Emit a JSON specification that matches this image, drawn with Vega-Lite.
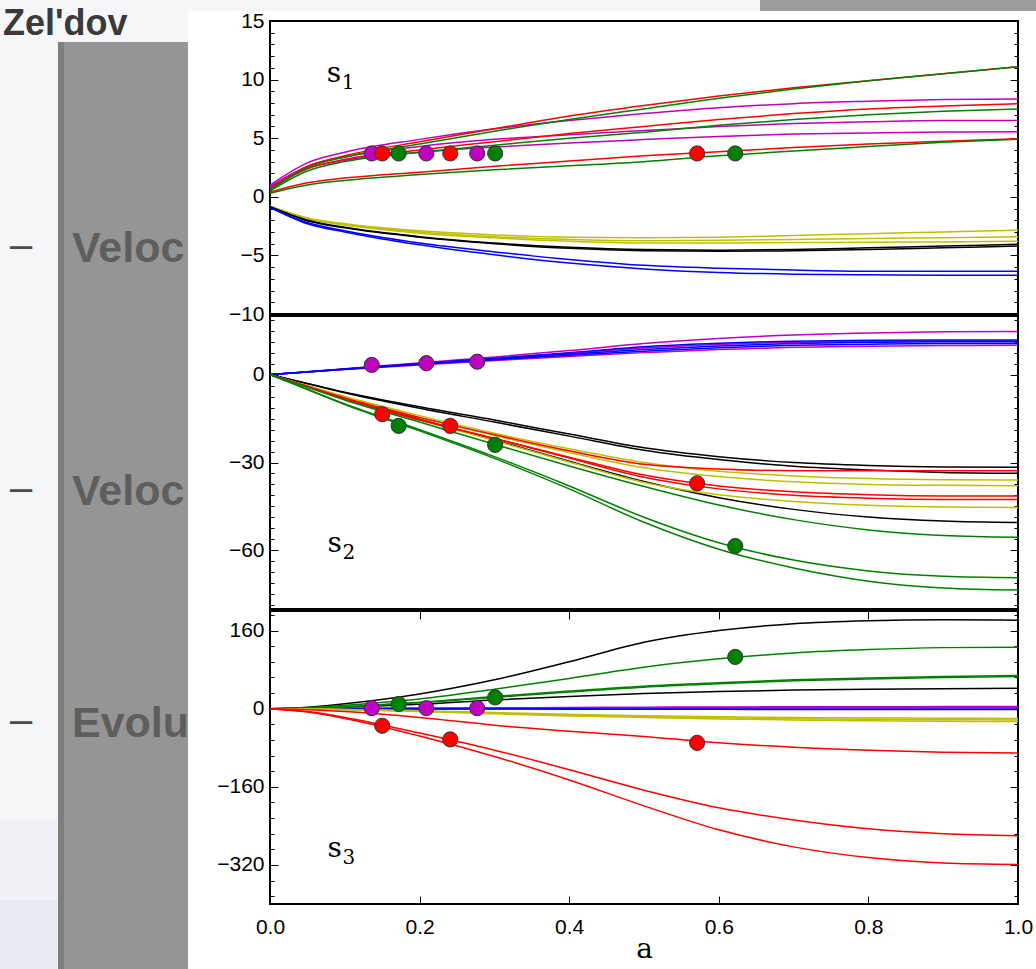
{
"$schema":"https://vega.github.io/schema/vega-lite/v6.json",
"background":"#ffffff",
"padding":0,
"bounds":"flush",
"spacing":82,
"resolve":{"scale":{"color":"independent","fill":"independent"}},
"config":{
 "view":{"stroke":null},
 "axis":{"domain":false,"grid":false,"labelFont":"Liberation Sans","labelFontSize":21,"labelColor":"#000000","tickColor":"#000000","tickWidth":1,"labelFlush":false,"labelOverlap":false,"titleColor":"#000000"}
},
"datasets":{
 "deco":[
  {"part":"bg","x1":0,"x2":1036,"y1":0,"y2":969},
  {"part":"bgb","x1":0,"x2":58,"y1":820,"y2":900},
  {"part":"bgc","x1":0,"x2":58,"y1":900,"y2":969},
  {"part":"edge","x1":58,"x2":64,"y1":42,"y2":969},
  {"part":"strip","x1":64,"x2":188,"y1":42,"y2":969},
  {"part":"title","t":"Zel'dov","x1":3,"y1":7},
  {"part":"body","t":"Veloc","x1":72,"y1":262},
  {"part":"body","t":"Veloc","x1":72,"y1":505},
  {"part":"body","t":"Evolu","x1":72,"y1":737},
  {"part":"bullet","t":"–","x1":10,"y1":258},
  {"part":"bullet","t":"–","x1":10,"y1":501},
  {"part":"bullet","t":"–","x1":10,"y1":733},
  {"part":"cover","x1":188,"x2":1036,"y1":11,"y2":969},
  {"part":"bar","x1":760,"x2":1036,"y1":0,"y2":11}
 ],
 "curves":[
{"p":1,"c":"m1","k":"m","a":0,"v":1.0},{"p":1,"c":"m1","k":"m","a":0.05,"v":2.9},{"p":1,"c":"m1","k":"m","a":0.1,"v":3.8},{"p":1,"c":"m1","k":"m","a":0.2,"v":4.9},{"p":1,"c":"m1","k":"m","a":0.3,"v":5.8},{"p":1,"c":"m1","k":"m","a":0.4,"v":6.5},{"p":1,"c":"m1","k":"m","a":0.5,"v":7.1},{"p":1,"c":"m1","k":"m","a":0.6,"v":7.6},{"p":1,"c":"m1","k":"m","a":0.7,"v":7.95},{"p":1,"c":"m1","k":"m","a":0.8,"v":8.15},{"p":1,"c":"m1","k":"m","a":0.9,"v":8.3},{"p":1,"c":"m1","k":"m","a":1,"v":8.35},
{"p":1,"c":"m2","k":"m","a":0,"v":0.9},{"p":1,"c":"m2","k":"m","a":0.05,"v":2.6},{"p":1,"c":"m2","k":"m","a":0.1,"v":3.4},{"p":1,"c":"m2","k":"m","a":0.2,"v":4.3},{"p":1,"c":"m2","k":"m","a":0.3,"v":4.9},{"p":1,"c":"m2","k":"m","a":0.4,"v":5.3},{"p":1,"c":"m2","k":"m","a":0.5,"v":5.65},{"p":1,"c":"m2","k":"m","a":0.6,"v":6.0},{"p":1,"c":"m2","k":"m","a":0.7,"v":6.25},{"p":1,"c":"m2","k":"m","a":0.8,"v":6.4},{"p":1,"c":"m2","k":"m","a":0.9,"v":6.5},{"p":1,"c":"m2","k":"m","a":1,"v":6.5},
{"p":1,"c":"m3","k":"m","a":0,"v":0.8},{"p":1,"c":"m3","k":"m","a":0.05,"v":2.4},{"p":1,"c":"m3","k":"m","a":0.1,"v":3.1},{"p":1,"c":"m3","k":"m","a":0.2,"v":3.8},{"p":1,"c":"m3","k":"m","a":0.3,"v":4.25},{"p":1,"c":"m3","k":"m","a":0.4,"v":4.6},{"p":1,"c":"m3","k":"m","a":0.5,"v":4.88},{"p":1,"c":"m3","k":"m","a":0.6,"v":5.15},{"p":1,"c":"m3","k":"m","a":0.7,"v":5.35},{"p":1,"c":"m3","k":"m","a":0.8,"v":5.45},{"p":1,"c":"m3","k":"m","a":0.9,"v":5.52},{"p":1,"c":"m3","k":"m","a":1,"v":5.55},
{"p":1,"c":"r1","k":"r","a":0,"v":0.7},{"p":1,"c":"r1","k":"r","a":0.05,"v":2.6},{"p":1,"c":"r1","k":"r","a":0.1,"v":3.5},{"p":1,"c":"r1","k":"r","a":0.2,"v":4.7},{"p":1,"c":"r1","k":"r","a":0.3,"v":5.8},{"p":1,"c":"r1","k":"r","a":0.4,"v":6.9},{"p":1,"c":"r1","k":"r","a":0.5,"v":7.8},{"p":1,"c":"r1","k":"r","a":0.6,"v":8.6},{"p":1,"c":"r1","k":"r","a":0.7,"v":9.3},{"p":1,"c":"r1","k":"r","a":0.8,"v":9.9},{"p":1,"c":"r1","k":"r","a":0.9,"v":10.5},{"p":1,"c":"r1","k":"r","a":1,"v":11.1},
{"p":1,"c":"r2","k":"r","a":0,"v":0.6},{"p":1,"c":"r2","k":"r","a":0.05,"v":2.4},{"p":1,"c":"r2","k":"r","a":0.1,"v":3.2},{"p":1,"c":"r2","k":"r","a":0.2,"v":4.0},{"p":1,"c":"r2","k":"r","a":0.3,"v":4.7},{"p":1,"c":"r2","k":"r","a":0.4,"v":5.4},{"p":1,"c":"r2","k":"r","a":0.5,"v":6.0},{"p":1,"c":"r2","k":"r","a":0.6,"v":6.6},{"p":1,"c":"r2","k":"r","a":0.7,"v":7.1},{"p":1,"c":"r2","k":"r","a":0.8,"v":7.5},{"p":1,"c":"r2","k":"r","a":0.9,"v":7.75},{"p":1,"c":"r2","k":"r","a":1,"v":7.95},
{"p":1,"c":"r3","k":"r","a":0,"v":0.4},{"p":1,"c":"r3","k":"r","a":0.05,"v":1.2},{"p":1,"c":"r3","k":"r","a":0.1,"v":1.6},{"p":1,"c":"r3","k":"r","a":0.2,"v":2.1},{"p":1,"c":"r3","k":"r","a":0.3,"v":2.6},{"p":1,"c":"r3","k":"r","a":0.4,"v":3.05},{"p":1,"c":"r3","k":"r","a":0.5,"v":3.5},{"p":1,"c":"r3","k":"r","a":0.6,"v":3.85},{"p":1,"c":"r3","k":"r","a":0.7,"v":4.2},{"p":1,"c":"r3","k":"r","a":0.8,"v":4.5},{"p":1,"c":"r3","k":"r","a":0.9,"v":4.75},{"p":1,"c":"r3","k":"r","a":1,"v":4.95},
{"p":1,"c":"g1","k":"g","a":0,"v":0.6},{"p":1,"c":"g1","k":"g","a":0.05,"v":2.5},{"p":1,"c":"g1","k":"g","a":0.1,"v":3.4},{"p":1,"c":"g1","k":"g","a":0.2,"v":4.5},{"p":1,"c":"g1","k":"g","a":0.3,"v":5.6},{"p":1,"c":"g1","k":"g","a":0.4,"v":6.6},{"p":1,"c":"g1","k":"g","a":0.5,"v":7.5},{"p":1,"c":"g1","k":"g","a":0.6,"v":8.4},{"p":1,"c":"g1","k":"g","a":0.7,"v":9.2},{"p":1,"c":"g1","k":"g","a":0.8,"v":9.9},{"p":1,"c":"g1","k":"g","a":0.9,"v":10.5},{"p":1,"c":"g1","k":"g","a":1,"v":11.1},
{"p":1,"c":"g2","k":"g","a":0,"v":0.5},{"p":1,"c":"g2","k":"g","a":0.05,"v":2.2},{"p":1,"c":"g2","k":"g","a":0.1,"v":3.0},{"p":1,"c":"g2","k":"g","a":0.2,"v":3.8},{"p":1,"c":"g2","k":"g","a":0.3,"v":4.4},{"p":1,"c":"g2","k":"g","a":0.4,"v":5.0},{"p":1,"c":"g2","k":"g","a":0.5,"v":5.5},{"p":1,"c":"g2","k":"g","a":0.6,"v":6.1},{"p":1,"c":"g2","k":"g","a":0.7,"v":6.6},{"p":1,"c":"g2","k":"g","a":0.8,"v":7.0},{"p":1,"c":"g2","k":"g","a":0.9,"v":7.3},{"p":1,"c":"g2","k":"g","a":1,"v":7.5},
{"p":1,"c":"g3","k":"g","a":0,"v":0.3},{"p":1,"c":"g3","k":"g","a":0.05,"v":1.0},{"p":1,"c":"g3","k":"g","a":0.1,"v":1.4},{"p":1,"c":"g3","k":"g","a":0.2,"v":1.9},{"p":1,"c":"g3","k":"g","a":0.3,"v":2.3},{"p":1,"c":"g3","k":"g","a":0.4,"v":2.65},{"p":1,"c":"g3","k":"g","a":0.5,"v":3.0},{"p":1,"c":"g3","k":"g","a":0.6,"v":3.5},{"p":1,"c":"g3","k":"g","a":0.7,"v":3.9},{"p":1,"c":"g3","k":"g","a":0.8,"v":4.3},{"p":1,"c":"g3","k":"g","a":0.9,"v":4.65},{"p":1,"c":"g3","k":"g","a":1,"v":4.9},
{"p":1,"c":"y1","k":"y","a":0,"v":-0.8},{"p":1,"c":"y1","k":"y","a":0.05,"v":-1.8},{"p":1,"c":"y1","k":"y","a":0.1,"v":-2.3},{"p":1,"c":"y1","k":"y","a":0.2,"v":-2.9},{"p":1,"c":"y1","k":"y","a":0.3,"v":-3.25},{"p":1,"c":"y1","k":"y","a":0.4,"v":-3.45},{"p":1,"c":"y1","k":"y","a":0.5,"v":-3.5},{"p":1,"c":"y1","k":"y","a":0.6,"v":-3.45},{"p":1,"c":"y1","k":"y","a":0.7,"v":-3.3},{"p":1,"c":"y1","k":"y","a":0.8,"v":-3.15},{"p":1,"c":"y1","k":"y","a":0.9,"v":-3.0},{"p":1,"c":"y1","k":"y","a":1,"v":-2.85},
{"p":1,"c":"y2","k":"y","a":0,"v":-0.8},{"p":1,"c":"y2","k":"y","a":0.05,"v":-1.85},{"p":1,"c":"y2","k":"y","a":0.1,"v":-2.35},{"p":1,"c":"y2","k":"y","a":0.2,"v":-3.0},{"p":1,"c":"y2","k":"y","a":0.3,"v":-3.4},{"p":1,"c":"y2","k":"y","a":0.4,"v":-3.65},{"p":1,"c":"y2","k":"y","a":0.5,"v":-3.75},{"p":1,"c":"y2","k":"y","a":0.6,"v":-3.7},{"p":1,"c":"y2","k":"y","a":0.7,"v":-3.65},{"p":1,"c":"y2","k":"y","a":0.8,"v":-3.55},{"p":1,"c":"y2","k":"y","a":0.9,"v":-3.5},{"p":1,"c":"y2","k":"y","a":1,"v":-3.4},
{"p":1,"c":"y3","k":"y","a":0,"v":-0.8},{"p":1,"c":"y3","k":"y","a":0.05,"v":-1.9},{"p":1,"c":"y3","k":"y","a":0.1,"v":-2.4},{"p":1,"c":"y3","k":"y","a":0.2,"v":-3.1},{"p":1,"c":"y3","k":"y","a":0.3,"v":-3.5},{"p":1,"c":"y3","k":"y","a":0.4,"v":-3.8},{"p":1,"c":"y3","k":"y","a":0.5,"v":-3.95},{"p":1,"c":"y3","k":"y","a":0.6,"v":-3.95},{"p":1,"c":"y3","k":"y","a":0.7,"v":-3.9},{"p":1,"c":"y3","k":"y","a":0.8,"v":-3.88},{"p":1,"c":"y3","k":"y","a":0.9,"v":-3.85},{"p":1,"c":"y3","k":"y","a":1,"v":-3.8},
{"p":1,"c":"k1","k":"k","a":0,"v":-0.85},{"p":1,"c":"k1","k":"k","a":0.05,"v":-2.0},{"p":1,"c":"k1","k":"k","a":0.1,"v":-2.6},{"p":1,"c":"k1","k":"k","a":0.2,"v":-3.4},{"p":1,"c":"k1","k":"k","a":0.3,"v":-3.95},{"p":1,"c":"k1","k":"k","a":0.4,"v":-4.3},{"p":1,"c":"k1","k":"k","a":0.5,"v":-4.5},{"p":1,"c":"k1","k":"k","a":0.6,"v":-4.55},{"p":1,"c":"k1","k":"k","a":0.7,"v":-4.5},{"p":1,"c":"k1","k":"k","a":0.8,"v":-4.35},{"p":1,"c":"k1","k":"k","a":0.9,"v":-4.2},{"p":1,"c":"k1","k":"k","a":1,"v":-4.05},
{"p":1,"c":"k2","k":"k","a":0,"v":-0.85},{"p":1,"c":"k2","k":"k","a":0.05,"v":-2.05},{"p":1,"c":"k2","k":"k","a":0.1,"v":-2.65},{"p":1,"c":"k2","k":"k","a":0.2,"v":-3.45},{"p":1,"c":"k2","k":"k","a":0.3,"v":-4.0},{"p":1,"c":"k2","k":"k","a":0.4,"v":-4.4},{"p":1,"c":"k2","k":"k","a":0.5,"v":-4.6},{"p":1,"c":"k2","k":"k","a":0.6,"v":-4.65},{"p":1,"c":"k2","k":"k","a":0.7,"v":-4.6},{"p":1,"c":"k2","k":"k","a":0.8,"v":-4.5},{"p":1,"c":"k2","k":"k","a":0.9,"v":-4.35},{"p":1,"c":"k2","k":"k","a":1,"v":-4.2},
{"p":1,"c":"b1","k":"b","a":0,"v":-0.9},{"p":1,"c":"b1","k":"b","a":0.05,"v":-2.2},{"p":1,"c":"b1","k":"b","a":0.1,"v":-2.9},{"p":1,"c":"b1","k":"b","a":0.2,"v":-3.95},{"p":1,"c":"b1","k":"b","a":0.3,"v":-4.7},{"p":1,"c":"b1","k":"b","a":0.4,"v":-5.35},{"p":1,"c":"b1","k":"b","a":0.5,"v":-5.85},{"p":1,"c":"b1","k":"b","a":0.6,"v":-6.1},{"p":1,"c":"b1","k":"b","a":0.7,"v":-6.25},{"p":1,"c":"b1","k":"b","a":0.8,"v":-6.35},{"p":1,"c":"b1","k":"b","a":0.9,"v":-6.35},{"p":1,"c":"b1","k":"b","a":1,"v":-6.35},
{"p":1,"c":"b2","k":"b","a":0,"v":-0.9},{"p":1,"c":"b2","k":"b","a":0.05,"v":-2.3},{"p":1,"c":"b2","k":"b","a":0.1,"v":-3.0},{"p":1,"c":"b2","k":"b","a":0.2,"v":-4.1},{"p":1,"c":"b2","k":"b","a":0.3,"v":-4.95},{"p":1,"c":"b2","k":"b","a":0.4,"v":-5.65},{"p":1,"c":"b2","k":"b","a":0.5,"v":-6.15},{"p":1,"c":"b2","k":"b","a":0.6,"v":-6.45},{"p":1,"c":"b2","k":"b","a":0.7,"v":-6.6},{"p":1,"c":"b2","k":"b","a":0.8,"v":-6.65},{"p":1,"c":"b2","k":"b","a":0.9,"v":-6.7},{"p":1,"c":"b2","k":"b","a":1,"v":-6.7},
{"p":2,"c":"m1","k":"m","a":0,"v":0},{"p":2,"c":"m1","k":"m","a":0.05,"v":1.0},{"p":2,"c":"m1","k":"m","a":0.1,"v":2.0},{"p":2,"c":"m1","k":"m","a":0.2,"v":4.0},{"p":2,"c":"m1","k":"m","a":0.3,"v":6.0},{"p":2,"c":"m1","k":"m","a":0.4,"v":8.2},{"p":2,"c":"m1","k":"m","a":0.5,"v":10.6},{"p":2,"c":"m1","k":"m","a":0.6,"v":12.3},{"p":2,"c":"m1","k":"m","a":0.7,"v":13.5},{"p":2,"c":"m1","k":"m","a":0.8,"v":14.2},{"p":2,"c":"m1","k":"m","a":0.9,"v":14.6},{"p":2,"c":"m1","k":"m","a":1,"v":14.7},
{"p":2,"c":"m3","k":"m","a":0,"v":0},{"p":2,"c":"m3","k":"m","a":0.05,"v":0.95},{"p":2,"c":"m3","k":"m","a":0.1,"v":1.9},{"p":2,"c":"m3","k":"m","a":0.2,"v":3.7},{"p":2,"c":"m3","k":"m","a":0.3,"v":5.5},{"p":2,"c":"m3","k":"m","a":0.4,"v":7.3},{"p":2,"c":"m3","k":"m","a":0.5,"v":9.1},{"p":2,"c":"m3","k":"m","a":0.6,"v":10.3},{"p":2,"c":"m3","k":"m","a":0.7,"v":11.0},{"p":2,"c":"m3","k":"m","a":0.8,"v":11.3},{"p":2,"c":"m3","k":"m","a":0.9,"v":11.5},{"p":2,"c":"m3","k":"m","a":1,"v":11.5},
{"p":2,"c":"m2","k":"m","a":0,"v":0},{"p":2,"c":"m2","k":"m","a":0.05,"v":0.85},{"p":2,"c":"m2","k":"m","a":0.1,"v":1.7},{"p":2,"c":"m2","k":"m","a":0.2,"v":3.3},{"p":2,"c":"m2","k":"m","a":0.3,"v":4.8},{"p":2,"c":"m2","k":"m","a":0.4,"v":6.2},{"p":2,"c":"m2","k":"m","a":0.5,"v":7.5},{"p":2,"c":"m2","k":"m","a":0.6,"v":8.6},{"p":2,"c":"m2","k":"m","a":0.7,"v":9.3},{"p":2,"c":"m2","k":"m","a":0.8,"v":9.7},{"p":2,"c":"m2","k":"m","a":0.9,"v":9.9},{"p":2,"c":"m2","k":"m","a":1,"v":10.0},
{"p":2,"c":"b1","k":"b","a":0,"v":0},{"p":2,"c":"b1","k":"b","a":0.05,"v":0.95},{"p":2,"c":"b1","k":"b","a":0.1,"v":1.9},{"p":2,"c":"b1","k":"b","a":0.2,"v":3.8},{"p":2,"c":"b1","k":"b","a":0.3,"v":5.6},{"p":2,"c":"b1","k":"b","a":0.4,"v":7.5},{"p":2,"c":"b1","k":"b","a":0.5,"v":9.5},{"p":2,"c":"b1","k":"b","a":0.6,"v":10.7},{"p":2,"c":"b1","k":"b","a":0.7,"v":11.4},{"p":2,"c":"b1","k":"b","a":0.8,"v":11.7},{"p":2,"c":"b1","k":"b","a":0.9,"v":11.8},{"p":2,"c":"b1","k":"b","a":1,"v":11.8},
{"p":2,"c":"b2","k":"b","a":0,"v":0},{"p":2,"c":"b2","k":"b","a":0.05,"v":0.9},{"p":2,"c":"b2","k":"b","a":0.1,"v":1.85},{"p":2,"c":"b2","k":"b","a":0.2,"v":3.6},{"p":2,"c":"b2","k":"b","a":0.3,"v":5.3},{"p":2,"c":"b2","k":"b","a":0.4,"v":7.0},{"p":2,"c":"b2","k":"b","a":0.5,"v":8.6},{"p":2,"c":"b2","k":"b","a":0.6,"v":9.8},{"p":2,"c":"b2","k":"b","a":0.7,"v":10.6},{"p":2,"c":"b2","k":"b","a":0.8,"v":11.0},{"p":2,"c":"b2","k":"b","a":0.9,"v":11.2},{"p":2,"c":"b2","k":"b","a":1,"v":11.2},
{"p":2,"c":"b3","k":"b","a":0,"v":0},{"p":2,"c":"b3","k":"b","a":0.05,"v":0.9},{"p":2,"c":"b3","k":"b","a":0.1,"v":1.8},{"p":2,"c":"b3","k":"b","a":0.2,"v":3.5},{"p":2,"c":"b3","k":"b","a":0.3,"v":5.1},{"p":2,"c":"b3","k":"b","a":0.4,"v":6.6},{"p":2,"c":"b3","k":"b","a":0.5,"v":8.0},{"p":2,"c":"b3","k":"b","a":0.6,"v":9.2},{"p":2,"c":"b3","k":"b","a":0.7,"v":10.0},{"p":2,"c":"b3","k":"b","a":0.8,"v":10.4},{"p":2,"c":"b3","k":"b","a":0.9,"v":10.6},{"p":2,"c":"b3","k":"b","a":1,"v":10.6},
{"p":2,"c":"k1","k":"k","a":0,"v":0},{"p":2,"c":"k1","k":"k","a":0.05,"v":-3.0},{"p":2,"c":"k1","k":"k","a":0.1,"v":-6.0},{"p":2,"c":"k1","k":"k","a":0.2,"v":-11.0},{"p":2,"c":"k1","k":"k","a":0.3,"v":-15.5},{"p":2,"c":"k1","k":"k","a":0.4,"v":-20.3},{"p":2,"c":"k1","k":"k","a":0.5,"v":-25.0},{"p":2,"c":"k1","k":"k","a":0.6,"v":-28.0},{"p":2,"c":"k1","k":"k","a":0.7,"v":-30.0},{"p":2,"c":"k1","k":"k","a":0.8,"v":-31.0},{"p":2,"c":"k1","k":"k","a":0.9,"v":-31.5},{"p":2,"c":"k1","k":"k","a":1,"v":-31.6},
{"p":2,"c":"k2","k":"k","a":0,"v":0},{"p":2,"c":"k2","k":"k","a":0.05,"v":-3.1},{"p":2,"c":"k2","k":"k","a":0.1,"v":-6.2},{"p":2,"c":"k2","k":"k","a":0.2,"v":-11.5},{"p":2,"c":"k2","k":"k","a":0.3,"v":-16.2},{"p":2,"c":"k2","k":"k","a":0.4,"v":-21.0},{"p":2,"c":"k2","k":"k","a":0.5,"v":-25.8},{"p":2,"c":"k2","k":"k","a":0.6,"v":-29.0},{"p":2,"c":"k2","k":"k","a":0.7,"v":-31.3},{"p":2,"c":"k2","k":"k","a":0.8,"v":-32.6},{"p":2,"c":"k2","k":"k","a":0.9,"v":-33.4},{"p":2,"c":"k2","k":"k","a":1,"v":-33.7},
{"p":2,"c":"k3","k":"k","a":0,"v":0},{"p":2,"c":"k3","k":"k","a":0.05,"v":-4.0},{"p":2,"c":"k3","k":"k","a":0.1,"v":-8.0},{"p":2,"c":"k3","k":"k","a":0.2,"v":-15.2},{"p":2,"c":"k3","k":"k","a":0.3,"v":-22.3},{"p":2,"c":"k3","k":"k","a":0.4,"v":-29.6},{"p":2,"c":"k3","k":"k","a":0.5,"v":-36.5},{"p":2,"c":"k3","k":"k","a":0.6,"v":-42.0},{"p":2,"c":"k3","k":"k","a":0.7,"v":-46.0},{"p":2,"c":"k3","k":"k","a":0.8,"v":-48.6},{"p":2,"c":"k3","k":"k","a":0.9,"v":-50.0},{"p":2,"c":"k3","k":"k","a":1,"v":-50.5},
{"p":2,"c":"y1","k":"y","a":0,"v":0},{"p":2,"c":"y1","k":"y","a":0.05,"v":-3.8},{"p":2,"c":"y1","k":"y","a":0.1,"v":-7.5},{"p":2,"c":"y1","k":"y","a":0.2,"v":-14.0},{"p":2,"c":"y1","k":"y","a":0.3,"v":-20.0},{"p":2,"c":"y1","k":"y","a":0.4,"v":-25.3},{"p":2,"c":"y1","k":"y","a":0.5,"v":-30.0},{"p":2,"c":"y1","k":"y","a":0.6,"v":-33.0},{"p":2,"c":"y1","k":"y","a":0.7,"v":-34.6},{"p":2,"c":"y1","k":"y","a":0.8,"v":-35.5},{"p":2,"c":"y1","k":"y","a":0.9,"v":-35.9},{"p":2,"c":"y1","k":"y","a":1,"v":-36.0},
{"p":2,"c":"y2","k":"y","a":0,"v":0},{"p":2,"c":"y2","k":"y","a":0.05,"v":-3.9},{"p":2,"c":"y2","k":"y","a":0.1,"v":-7.8},{"p":2,"c":"y2","k":"y","a":0.2,"v":-14.6},{"p":2,"c":"y2","k":"y","a":0.3,"v":-20.8},{"p":2,"c":"y2","k":"y","a":0.4,"v":-26.6},{"p":2,"c":"y2","k":"y","a":0.5,"v":-31.8},{"p":2,"c":"y2","k":"y","a":0.6,"v":-34.8},{"p":2,"c":"y2","k":"y","a":0.7,"v":-36.6},{"p":2,"c":"y2","k":"y","a":0.8,"v":-37.5},{"p":2,"c":"y2","k":"y","a":0.9,"v":-37.8},{"p":2,"c":"y2","k":"y","a":1,"v":-37.9},
{"p":2,"c":"y3","k":"y","a":0,"v":0},{"p":2,"c":"y3","k":"y","a":0.05,"v":-4.0},{"p":2,"c":"y3","k":"y","a":0.1,"v":-8.2},{"p":2,"c":"y3","k":"y","a":0.2,"v":-15.5},{"p":2,"c":"y3","k":"y","a":0.3,"v":-22.5},{"p":2,"c":"y3","k":"y","a":0.4,"v":-29.8},{"p":2,"c":"y3","k":"y","a":0.5,"v":-36.8},{"p":2,"c":"y3","k":"y","a":0.6,"v":-41.0},{"p":2,"c":"y3","k":"y","a":0.7,"v":-43.3},{"p":2,"c":"y3","k":"y","a":0.8,"v":-44.6},{"p":2,"c":"y3","k":"y","a":0.9,"v":-45.2},{"p":2,"c":"y3","k":"y","a":1,"v":-45.4},
{"p":2,"c":"r1","k":"r","a":0,"v":0},{"p":2,"c":"r1","k":"r","a":0.05,"v":-4.0},{"p":2,"c":"r1","k":"r","a":0.1,"v":-8.0},{"p":2,"c":"r1","k":"r","a":0.2,"v":-14.6},{"p":2,"c":"r1","k":"r","a":0.3,"v":-20.5},{"p":2,"c":"r1","k":"r","a":0.4,"v":-26.0},{"p":2,"c":"r1","k":"r","a":0.5,"v":-30.6},{"p":2,"c":"r1","k":"r","a":0.6,"v":-32.2},{"p":2,"c":"r1","k":"r","a":0.7,"v":-32.8},{"p":2,"c":"r1","k":"r","a":0.8,"v":-32.8},{"p":2,"c":"r1","k":"r","a":0.9,"v":-32.8},{"p":2,"c":"r1","k":"r","a":1,"v":-32.8},
{"p":2,"c":"r2","k":"r","a":0,"v":0},{"p":2,"c":"r2","k":"r","a":0.05,"v":-4.2},{"p":2,"c":"r2","k":"r","a":0.1,"v":-8.5},{"p":2,"c":"r2","k":"r","a":0.2,"v":-15.5},{"p":2,"c":"r2","k":"r","a":0.3,"v":-21.8},{"p":2,"c":"r2","k":"r","a":0.4,"v":-28.2},{"p":2,"c":"r2","k":"r","a":0.5,"v":-34.3},{"p":2,"c":"r2","k":"r","a":0.6,"v":-38.0},{"p":2,"c":"r2","k":"r","a":0.7,"v":-40.0},{"p":2,"c":"r2","k":"r","a":0.8,"v":-41.0},{"p":2,"c":"r2","k":"r","a":0.9,"v":-41.4},{"p":2,"c":"r2","k":"r","a":1,"v":-41.4},
{"p":2,"c":"r3","k":"r","a":0,"v":0},{"p":2,"c":"r3","k":"r","a":0.05,"v":-4.1},{"p":2,"c":"r3","k":"r","a":0.1,"v":-8.3},{"p":2,"c":"r3","k":"r","a":0.2,"v":-15.3},{"p":2,"c":"r3","k":"r","a":0.3,"v":-21.8},{"p":2,"c":"r3","k":"r","a":0.4,"v":-28.5},{"p":2,"c":"r3","k":"r","a":0.5,"v":-35.0},{"p":2,"c":"r3","k":"r","a":0.6,"v":-39.0},{"p":2,"c":"r3","k":"r","a":0.7,"v":-41.2},{"p":2,"c":"r3","k":"r","a":0.8,"v":-42.2},{"p":2,"c":"r3","k":"r","a":0.9,"v":-42.6},{"p":2,"c":"r3","k":"r","a":1,"v":-42.6},
{"p":2,"c":"g1","k":"g","a":0,"v":0},{"p":2,"c":"g1","k":"g","a":0.05,"v":-4.3},{"p":2,"c":"g1","k":"g","a":0.1,"v":-8.7},{"p":2,"c":"g1","k":"g","a":0.2,"v":-16.2},{"p":2,"c":"g1","k":"g","a":0.3,"v":-23.8},{"p":2,"c":"g1","k":"g","a":0.4,"v":-31.2},{"p":2,"c":"g1","k":"g","a":0.5,"v":-38.2},{"p":2,"c":"g1","k":"g","a":0.6,"v":-44.5},{"p":2,"c":"g1","k":"g","a":0.7,"v":-49.5},{"p":2,"c":"g1","k":"g","a":0.8,"v":-53.0},{"p":2,"c":"g1","k":"g","a":0.9,"v":-54.9},{"p":2,"c":"g1","k":"g","a":1,"v":-55.5},
{"p":2,"c":"g2","k":"g","a":0,"v":0},{"p":2,"c":"g2","k":"g","a":0.05,"v":-5.0},{"p":2,"c":"g2","k":"g","a":0.1,"v":-10.0},{"p":2,"c":"g2","k":"g","a":0.2,"v":-18.8},{"p":2,"c":"g2","k":"g","a":0.3,"v":-28.0},{"p":2,"c":"g2","k":"g","a":0.4,"v":-38.0},{"p":2,"c":"g2","k":"g","a":0.5,"v":-48.7},{"p":2,"c":"g2","k":"g","a":0.6,"v":-57.4},{"p":2,"c":"g2","k":"g","a":0.7,"v":-63.3},{"p":2,"c":"g2","k":"g","a":0.8,"v":-67.0},{"p":2,"c":"g2","k":"g","a":0.9,"v":-68.8},{"p":2,"c":"g2","k":"g","a":1,"v":-69.3},
{"p":2,"c":"g3","k":"g","a":0,"v":0},{"p":2,"c":"g3","k":"g","a":0.05,"v":-5.1},{"p":2,"c":"g3","k":"g","a":0.1,"v":-10.2},{"p":2,"c":"g3","k":"g","a":0.2,"v":-19.2},{"p":2,"c":"g3","k":"g","a":0.3,"v":-28.6},{"p":2,"c":"g3","k":"g","a":0.4,"v":-39.0},{"p":2,"c":"g3","k":"g","a":0.5,"v":-50.4},{"p":2,"c":"g3","k":"g","a":0.6,"v":-59.6},{"p":2,"c":"g3","k":"g","a":0.7,"v":-66.0},{"p":2,"c":"g3","k":"g","a":0.8,"v":-70.5},{"p":2,"c":"g3","k":"g","a":0.9,"v":-72.8},{"p":2,"c":"g3","k":"g","a":1,"v":-73.5},
{"p":3,"c":"k1","k":"k","a":0,"v":0},{"p":3,"c":"k1","k":"k","a":0.05,"v":3},{"p":3,"c":"k1","k":"k","a":0.1,"v":10},{"p":3,"c":"k1","k":"k","a":0.2,"v":30},{"p":3,"c":"k1","k":"k","a":0.3,"v":59},{"p":3,"c":"k1","k":"k","a":0.4,"v":96},{"p":3,"c":"k1","k":"k","a":0.5,"v":136},{"p":3,"c":"k1","k":"k","a":0.6,"v":160},{"p":3,"c":"k1","k":"k","a":0.7,"v":174},{"p":3,"c":"k1","k":"k","a":0.8,"v":180},{"p":3,"c":"k1","k":"k","a":0.9,"v":182},{"p":3,"c":"k1","k":"k","a":1,"v":181},
{"p":3,"c":"k2","k":"k","a":0,"v":0},{"p":3,"c":"k2","k":"k","a":0.05,"v":1},{"p":3,"c":"k2","k":"k","a":0.1,"v":3},{"p":3,"c":"k2","k":"k","a":0.2,"v":9},{"p":3,"c":"k2","k":"k","a":0.3,"v":18},{"p":3,"c":"k2","k":"k","a":0.4,"v":25},{"p":3,"c":"k2","k":"k","a":0.5,"v":31},{"p":3,"c":"k2","k":"k","a":0.6,"v":35},{"p":3,"c":"k2","k":"k","a":0.7,"v":38},{"p":3,"c":"k2","k":"k","a":0.8,"v":40},{"p":3,"c":"k2","k":"k","a":0.9,"v":41},{"p":3,"c":"k2","k":"k","a":1,"v":42},
{"p":3,"c":"g1","k":"g","a":0,"v":0},{"p":3,"c":"g1","k":"g","a":0.05,"v":2},{"p":3,"c":"g1","k":"g","a":0.1,"v":7},{"p":3,"c":"g1","k":"g","a":0.2,"v":20},{"p":3,"c":"g1","k":"g","a":0.3,"v":40},{"p":3,"c":"g1","k":"g","a":0.4,"v":62},{"p":3,"c":"g1","k":"g","a":0.5,"v":85},{"p":3,"c":"g1","k":"g","a":0.6,"v":102},{"p":3,"c":"g1","k":"g","a":0.7,"v":114},{"p":3,"c":"g1","k":"g","a":0.8,"v":121},{"p":3,"c":"g1","k":"g","a":0.9,"v":125},{"p":3,"c":"g1","k":"g","a":1,"v":126},
{"p":3,"c":"g2","k":"g","a":0,"v":0},{"p":3,"c":"g2","k":"g","a":0.05,"v":1},{"p":3,"c":"g2","k":"g","a":0.1,"v":4},{"p":3,"c":"g2","k":"g","a":0.2,"v":13},{"p":3,"c":"g2","k":"g","a":0.3,"v":25},{"p":3,"c":"g2","k":"g","a":0.4,"v":36},{"p":3,"c":"g2","k":"g","a":0.5,"v":46},{"p":3,"c":"g2","k":"g","a":0.6,"v":53},{"p":3,"c":"g2","k":"g","a":0.7,"v":59},{"p":3,"c":"g2","k":"g","a":0.8,"v":63},{"p":3,"c":"g2","k":"g","a":0.9,"v":66},{"p":3,"c":"g2","k":"g","a":1,"v":68},
{"p":3,"c":"g3","k":"g","a":0,"v":0},{"p":3,"c":"g3","k":"g","a":0.05,"v":1},{"p":3,"c":"g3","k":"g","a":0.1,"v":4},{"p":3,"c":"g3","k":"g","a":0.2,"v":12},{"p":3,"c":"g3","k":"g","a":0.3,"v":23},{"p":3,"c":"g3","k":"g","a":0.4,"v":34},{"p":3,"c":"g3","k":"g","a":0.5,"v":44},{"p":3,"c":"g3","k":"g","a":0.6,"v":51},{"p":3,"c":"g3","k":"g","a":0.7,"v":57},{"p":3,"c":"g3","k":"g","a":0.8,"v":61},{"p":3,"c":"g3","k":"g","a":0.9,"v":64},{"p":3,"c":"g3","k":"g","a":1,"v":66},
{"p":3,"c":"m1","k":"m","a":0,"v":0},{"p":3,"c":"m1","k":"m","a":0.05,"v":0.3},{"p":3,"c":"m1","k":"m","a":0.1,"v":0.6},{"p":3,"c":"m1","k":"m","a":0.2,"v":1.2},{"p":3,"c":"m1","k":"m","a":0.3,"v":1.8},{"p":3,"c":"m1","k":"m","a":0.4,"v":2.4},{"p":3,"c":"m1","k":"m","a":0.5,"v":3.0},{"p":3,"c":"m1","k":"m","a":0.6,"v":3.5},{"p":3,"c":"m1","k":"m","a":0.7,"v":3.8},{"p":3,"c":"m1","k":"m","a":0.8,"v":4.0},{"p":3,"c":"m1","k":"m","a":0.9,"v":4.2},{"p":3,"c":"m1","k":"m","a":1,"v":4.3},
{"p":3,"c":"m2","k":"m","a":0,"v":0},{"p":3,"c":"m2","k":"m","a":0.05,"v":0.2},{"p":3,"c":"m2","k":"m","a":0.1,"v":0.4},{"p":3,"c":"m2","k":"m","a":0.2,"v":0.8},{"p":3,"c":"m2","k":"m","a":0.3,"v":1.2},{"p":3,"c":"m2","k":"m","a":0.4,"v":1.6},{"p":3,"c":"m2","k":"m","a":0.5,"v":2.0},{"p":3,"c":"m2","k":"m","a":0.6,"v":2.3},{"p":3,"c":"m2","k":"m","a":0.7,"v":2.6},{"p":3,"c":"m2","k":"m","a":0.8,"v":2.8},{"p":3,"c":"m2","k":"m","a":0.9,"v":2.9},{"p":3,"c":"m2","k":"m","a":1,"v":3.0},
{"p":3,"c":"b1","k":"b","a":0,"v":0},{"p":3,"c":"b1","k":"b","a":0.05,"v":0},{"p":3,"c":"b1","k":"b","a":0.1,"v":-0.1},{"p":3,"c":"b1","k":"b","a":0.2,"v":-0.2},{"p":3,"c":"b1","k":"b","a":0.3,"v":-0.3},{"p":3,"c":"b1","k":"b","a":0.4,"v":-0.4},{"p":3,"c":"b1","k":"b","a":0.5,"v":-0.5},{"p":3,"c":"b1","k":"b","a":0.6,"v":-0.6},{"p":3,"c":"b1","k":"b","a":0.7,"v":-0.6},{"p":3,"c":"b1","k":"b","a":0.8,"v":-0.7},{"p":3,"c":"b1","k":"b","a":0.9,"v":-0.7},{"p":3,"c":"b1","k":"b","a":1,"v":-0.7},
{"p":3,"c":"b2","k":"b","a":0,"v":0},{"p":3,"c":"b2","k":"b","a":0.05,"v":-0.1},{"p":3,"c":"b2","k":"b","a":0.1,"v":-0.2},{"p":3,"c":"b2","k":"b","a":0.2,"v":-0.5},{"p":3,"c":"b2","k":"b","a":0.3,"v":-0.8},{"p":3,"c":"b2","k":"b","a":0.4,"v":-1.0},{"p":3,"c":"b2","k":"b","a":0.5,"v":-1.2},{"p":3,"c":"b2","k":"b","a":0.6,"v":-1.4},{"p":3,"c":"b2","k":"b","a":0.7,"v":-1.5},{"p":3,"c":"b2","k":"b","a":0.8,"v":-1.6},{"p":3,"c":"b2","k":"b","a":0.9,"v":-1.6},{"p":3,"c":"b2","k":"b","a":1,"v":-1.6},
{"p":3,"c":"y1","k":"y","a":0,"v":0},{"p":3,"c":"y1","k":"y","a":0.05,"v":-0.5},{"p":3,"c":"y1","k":"y","a":0.1,"v":-1.5},{"p":3,"c":"y1","k":"y","a":0.2,"v":-4.5},{"p":3,"c":"y1","k":"y","a":0.3,"v":-8},{"p":3,"c":"y1","k":"y","a":0.4,"v":-11.5},{"p":3,"c":"y1","k":"y","a":0.5,"v":-14.5},{"p":3,"c":"y1","k":"y","a":0.6,"v":-16.5},{"p":3,"c":"y1","k":"y","a":0.7,"v":-18},{"p":3,"c":"y1","k":"y","a":0.8,"v":-19},{"p":3,"c":"y1","k":"y","a":0.9,"v":-19.5},{"p":3,"c":"y1","k":"y","a":1,"v":-20},
{"p":3,"c":"y2","k":"y","a":0,"v":0},{"p":3,"c":"y2","k":"y","a":0.05,"v":-0.6},{"p":3,"c":"y2","k":"y","a":0.1,"v":-1.8},{"p":3,"c":"y2","k":"y","a":0.2,"v":-5.2},{"p":3,"c":"y2","k":"y","a":0.3,"v":-9},{"p":3,"c":"y2","k":"y","a":0.4,"v":-13},{"p":3,"c":"y2","k":"y","a":0.5,"v":-16.2},{"p":3,"c":"y2","k":"y","a":0.6,"v":-18.8},{"p":3,"c":"y2","k":"y","a":0.7,"v":-20.5},{"p":3,"c":"y2","k":"y","a":0.8,"v":-21.8},{"p":3,"c":"y2","k":"y","a":0.9,"v":-22.5},{"p":3,"c":"y2","k":"y","a":1,"v":-23},
{"p":3,"c":"y3","k":"y","a":0,"v":0},{"p":3,"c":"y3","k":"y","a":0.05,"v":-0.7},{"p":3,"c":"y3","k":"y","a":0.1,"v":-2},{"p":3,"c":"y3","k":"y","a":0.2,"v":-6},{"p":3,"c":"y3","k":"y","a":0.3,"v":-10.5},{"p":3,"c":"y3","k":"y","a":0.4,"v":-14.8},{"p":3,"c":"y3","k":"y","a":0.5,"v":-18},{"p":3,"c":"y3","k":"y","a":0.6,"v":-21},{"p":3,"c":"y3","k":"y","a":0.7,"v":-23.2},{"p":3,"c":"y3","k":"y","a":0.8,"v":-24.8},{"p":3,"c":"y3","k":"y","a":0.9,"v":-25.8},{"p":3,"c":"y3","k":"y","a":1,"v":-26.5},
{"p":3,"c":"r1","k":"r","a":0,"v":0},{"p":3,"c":"r1","k":"r","a":0.05,"v":-2},{"p":3,"c":"r1","k":"r","a":0.1,"v":-6},{"p":3,"c":"r1","k":"r","a":0.2,"v":-18},{"p":3,"c":"r1","k":"r","a":0.3,"v":-34},{"p":3,"c":"r1","k":"r","a":0.4,"v":-46},{"p":3,"c":"r1","k":"r","a":0.5,"v":-57},{"p":3,"c":"r1","k":"r","a":0.6,"v":-70},{"p":3,"c":"r1","k":"r","a":0.7,"v":-79},{"p":3,"c":"r1","k":"r","a":0.8,"v":-85},{"p":3,"c":"r1","k":"r","a":0.9,"v":-89},{"p":3,"c":"r1","k":"r","a":1,"v":-91},
{"p":3,"c":"r2","k":"r","a":0,"v":0},{"p":3,"c":"r2","k":"r","a":0.05,"v":-6},{"p":3,"c":"r2","k":"r","a":0.1,"v":-18},{"p":3,"c":"r2","k":"r","a":0.2,"v":-50},{"p":3,"c":"r2","k":"r","a":0.3,"v":-85},{"p":3,"c":"r2","k":"r","a":0.4,"v":-125},{"p":3,"c":"r2","k":"r","a":0.5,"v":-167},{"p":3,"c":"r2","k":"r","a":0.6,"v":-203},{"p":3,"c":"r2","k":"r","a":0.7,"v":-228},{"p":3,"c":"r2","k":"r","a":0.8,"v":-246},{"p":3,"c":"r2","k":"r","a":0.9,"v":-256},{"p":3,"c":"r2","k":"r","a":1,"v":-260},
{"p":3,"c":"r3","k":"r","a":0,"v":0},{"p":3,"c":"r3","k":"r","a":0.05,"v":-7},{"p":3,"c":"r3","k":"r","a":0.1,"v":-20},{"p":3,"c":"r3","k":"r","a":0.2,"v":-56},{"p":3,"c":"r3","k":"r","a":0.3,"v":-98},{"p":3,"c":"r3","k":"r","a":0.4,"v":-146},{"p":3,"c":"r3","k":"r","a":0.5,"v":-199},{"p":3,"c":"r3","k":"r","a":0.6,"v":-248},{"p":3,"c":"r3","k":"r","a":0.7,"v":-283},{"p":3,"c":"r3","k":"r","a":0.8,"v":-305},{"p":3,"c":"r3","k":"r","a":0.9,"v":-316},{"p":3,"c":"r3","k":"r","a":1,"v":-319}
 ],
 "dots":[
  {"p":1,"k":"m","a":0.136,"v":3.7},{"p":1,"k":"r","a":0.150,"v":3.7},{"p":1,"k":"g","a":0.172,"v":3.7},{"p":1,"k":"m","a":0.209,"v":3.7},{"p":1,"k":"r","a":0.241,"v":3.7},{"p":1,"k":"m","a":0.277,"v":3.7},{"p":1,"k":"g","a":0.301,"v":3.7},{"p":1,"k":"r","a":0.571,"v":3.7},{"p":1,"k":"g","a":0.622,"v":3.7},
  {"p":2,"k":"m","a":0.136,"v":3.3},{"p":2,"k":"m","a":0.209,"v":3.9},{"p":2,"k":"m","a":0.277,"v":4.4},{"p":2,"k":"r","a":0.150,"v":-13.5},{"p":2,"k":"g","a":0.172,"v":-17.5},{"p":2,"k":"r","a":0.241,"v":-17.5},{"p":2,"k":"g","a":0.301,"v":-24.0},{"p":2,"k":"r","a":0.571,"v":-37.1},{"p":2,"k":"g","a":0.622,"v":-58.5},
  {"p":3,"k":"m","a":0.136,"v":1},{"p":3,"k":"m","a":0.209,"v":1},{"p":3,"k":"m","a":0.277,"v":1},{"p":3,"k":"g","a":0.172,"v":9.6},{"p":3,"k":"g","a":0.301,"v":23},{"p":3,"k":"g","a":0.622,"v":106},{"p":3,"k":"r","a":0.150,"v":-35},{"p":3,"k":"r","a":0.241,"v":-63},{"p":3,"k":"r","a":0.571,"v":-70}
 ],
 "tags":[
  {"p":1,"a":0.076,"v":9.82,"t":"s","n":"1"},
  {"p":2,"a":0.077,"v":-60.5,"t":"s","n":"2"},
  {"p":3,"a":0.077,"v":-303,"t":"s","n":"3"}
 ]
},
"hconcat":[
 {
  "width":188,"height":948,
  "view":{"stroke":null},
  "layer":[
   {"data":{"name":"deco"},"transform":[{"filter":"datum.part==='bg'||datum.part==='bgb'||datum.part==='bgc'||datum.part==='edge'||datum.part==='strip'"}],
    "mark":{"type":"rect"},
    "encoding":{
     "x":{"field":"x1","type":"quantitative","scale":{"domain":[0,188],"nice":false,"zero":false},"axis":null},
     "x2":{"field":"x2"},
     "y":{"field":"y1","type":"quantitative","scale":{"domain":[21,969],"nice":false,"zero":false,"reverse":true},"axis":null},
     "y2":{"field":"y2"},
     "color":{"field":"part","type":"nominal","scale":{"domain":["bg","bgb","bgc","edge","strip","cover","bar"],"range":["#f6f6f8","#f0f1f6","#e9ebf3","#7e7e7e","#959595","#ffffff","#9b9b9b"]},"legend":null}
    }},
   {"data":{"name":"deco"},"transform":[{"filter":"datum.part==='title'"}],
    "mark":{"type":"text","align":"left","baseline":"top","font":"Liberation Sans","fontSize":36,"fontWeight":"bold","color":"#3a3a3a"},
    "encoding":{
     "x":{"field":"x1","type":"quantitative","scale":{"domain":[0,188],"nice":false,"zero":false},"axis":null},
     "y":{"field":"y1","type":"quantitative","scale":{"domain":[21,969],"nice":false,"zero":false,"reverse":true},"axis":null},
     "text":{"field":"t","type":"nominal"}
    }},
   {"data":{"name":"deco"},"transform":[{"filter":"datum.part==='body'"}],
    "mark":{"type":"text","align":"left","baseline":"alphabetic","font":"Liberation Sans","fontSize":43,"fontWeight":"bold","color":"#5e5e5e"},
    "encoding":{
     "x":{"field":"x1","type":"quantitative","scale":{"domain":[0,188],"nice":false,"zero":false},"axis":null},
     "y":{"field":"y1","type":"quantitative","scale":{"domain":[21,969],"nice":false,"zero":false,"reverse":true},"axis":null},
     "text":{"field":"t","type":"nominal"}
    }},
   {"data":{"name":"deco"},"transform":[{"filter":"datum.part==='bullet'"}],
    "mark":{"type":"text","align":"left","baseline":"alphabetic","font":"Liberation Sans","fontSize":40,"color":"#4a4a4a"},
    "encoding":{
     "x":{"field":"x1","type":"quantitative","scale":{"domain":[0,188],"nice":false,"zero":false},"axis":null},
     "y":{"field":"y1","type":"quantitative","scale":{"domain":[21,969],"nice":false,"zero":false,"reverse":true},"axis":null},
     "text":{"field":"t","type":"nominal"}
    }},
   {"data":{"name":"deco"},"transform":[{"filter":"datum.part==='cover'||datum.part==='bar'"}],
    "mark":{"type":"rect"},
    "encoding":{
     "x":{"field":"x1","type":"quantitative","scale":{"domain":[0,188],"nice":false,"zero":false},"axis":null},
     "x2":{"field":"x2"},
     "y":{"field":"y1","type":"quantitative","scale":{"domain":[21,969],"nice":false,"zero":false,"reverse":true},"axis":null},
     "y2":{"field":"y2"},
     "color":{"field":"part","type":"nominal","scale":{"domain":["bg","bgb","bgc","edge","strip","cover","bar"],"range":["#f6f6f8","#f0f1f6","#e9ebf3","#7e7e7e","#959595","#ffffff","#9b9b9b"]},"legend":null}
    }}
  ]
 },
 {
  "spacing":2,
  "bounds":"flush",
  "vconcat":[
   {
    "width":748,"height":293,
    "view":{"stroke":"#000000","strokeWidth":2,"fill":"#ffffff"},
    "resolve":{"axis":{"x":"independent","y":"independent"}},
    "layer":[
     {"data":{"name":"curves"},"transform":[{"filter":"datum.p===1"}],
      "mark":{"type":"line","strokeWidth":1.5,"interpolate":"monotone","clip":true},
      "encoding":{
       "x":{"field":"a","type":"quantitative","scale":{"domain":[0,1],"nice":false,"zero":false},"axis":null},
       "y":{"field":"v","type":"quantitative","scale":{"domain":[-10,15],"nice":false,"zero":false},
            "axis":{"orient":"left","title":null,"format":"d","values":[-10,-9,-8,-7,-6,-5,-4,-3,-2,-1,0,1,2,3,4,5,6,7,8,9,10,11,12,13,14,15],
                    "labelExpr":"datum.value % 5 === 0 ? datum.label : ''",
                    "tickSize":{"condition":{"test":"datum.value % 5 === 0","value":-8},"value":-4},
                    "labelPadding":14}},
       "color":{"field":"k","type":"nominal","scale":{"domain":["m","r","g","y","k","b"],"range":["#bf00bf","#ff0000","#008000","#bfbf00","#000000","#0000ff"]},"legend":null},
       "detail":{"field":"c","type":"nominal"}
      }},
     {"data":{"name":"dots"},"transform":[{"filter":"datum.p===1"}],
      "mark":{"type":"circle","size":230,"opacity":1,"stroke":"#333333","strokeWidth":1},
      "encoding":{
       "x":{"field":"a","type":"quantitative","scale":{"domain":[0,1],"nice":false,"zero":false},"axis":null},
       "y":{"field":"v","type":"quantitative","scale":{"domain":[-10,15],"nice":false,"zero":false},
            "axis":{"orient":"right","title":null,"labels":false,"values":[-10,-9,-8,-7,-6,-5,-4,-3,-2,-1,0,1,2,3,4,5,6,7,8,9,10,11,12,13,14,15],
                    "tickSize":{"condition":{"test":"datum.value % 5 === 0","value":-8},"value":-4}}},
       "fill":{"field":"k","type":"nominal","scale":{"domain":["m","r","g"],"range":["#bf00bf","#ff0000","#008000"]},"legend":null}
      }},
     {"data":{"name":"tags"},"transform":[{"filter":"datum.p===1"}],
      "mark":{"type":"text","align":"left","baseline":"alphabetic","font":"DejaVu Serif","fontSize":28,"color":"#000000"},
      "encoding":{
       "x":{"field":"a","type":"quantitative","scale":{"domain":[0,1],"nice":false,"zero":false},"axis":null},
       "y":{"field":"v","type":"quantitative","scale":{"domain":[-10,15],"nice":false,"zero":false},"axis":null},
       "text":{"field":"t","type":"nominal"}
      }},
     {"data":{"name":"tags"},"transform":[{"filter":"datum.p===1"}],
      "mark":{"type":"text","align":"left","baseline":"alphabetic","font":"DejaVu Serif","fontSize":20,"color":"#000000","dx":15,"dy":7},
      "encoding":{
       "x":{"field":"a","type":"quantitative","scale":{"domain":[0,1],"nice":false,"zero":false},"axis":null},
       "y":{"field":"v","type":"quantitative","scale":{"domain":[-10,15],"nice":false,"zero":false},"axis":null},
       "text":{"field":"n","type":"nominal"}
      }}
    ]
   },
   {
    "width":748,"height":293,
    "view":{"stroke":"#000000","strokeWidth":2,"fill":"#ffffff"},
    "resolve":{"axis":{"x":"independent","y":"independent"}},
    "layer":[
     {"data":{"name":"curves"},"transform":[{"filter":"datum.p===2"}],
      "mark":{"type":"line","strokeWidth":1.5,"interpolate":"monotone","clip":true},
      "encoding":{
       "x":{"field":"a","type":"quantitative","scale":{"domain":[0,1],"nice":false,"zero":false},"axis":null},
       "y":{"field":"v","type":"quantitative","scale":{"domain":[-80,20],"nice":false,"zero":false},
            "axis":{"orient":"left","title":null,"format":"d","values":[-78.75,-75,-71.25,-67.5,-63.75,-60,-56.25,-52.5,-48.75,-45,-41.25,-37.5,-33.75,-30,-26.25,-22.5,-18.75,-15,-11.25,-7.5,-3.75,0,3.75,7.5,11.25,15,18.75],
                    "labelExpr":"datum.value % 30 === 0 ? datum.label : ''",
                    "tickSize":{"condition":{"test":"datum.value % 30 === 0","value":-8},"value":-4},
                    "labelPadding":14}},
       "color":{"field":"k","type":"nominal","scale":{"domain":["m","r","g","y","k","b"],"range":["#bf00bf","#ff0000","#008000","#bfbf00","#000000","#0000ff"]},"legend":null},
       "detail":{"field":"c","type":"nominal"}
      }},
     {"data":{"name":"dots"},"transform":[{"filter":"datum.p===2"}],
      "mark":{"type":"circle","size":230,"opacity":1,"stroke":"#333333","strokeWidth":1},
      "encoding":{
       "x":{"field":"a","type":"quantitative","scale":{"domain":[0,1],"nice":false,"zero":false},"axis":null},
       "y":{"field":"v","type":"quantitative","scale":{"domain":[-80,20],"nice":false,"zero":false},
            "axis":{"orient":"right","title":null,"labels":false,"values":[-78.75,-75,-71.25,-67.5,-63.75,-60,-56.25,-52.5,-48.75,-45,-41.25,-37.5,-33.75,-30,-26.25,-22.5,-18.75,-15,-11.25,-7.5,-3.75,0,3.75,7.5,11.25,15,18.75],
                    "tickSize":{"condition":{"test":"datum.value % 30 === 0","value":-8},"value":-4}}},
       "fill":{"field":"k","type":"nominal","scale":{"domain":["m","r","g"],"range":["#bf00bf","#ff0000","#008000"]},"legend":null}
      }},
     {"data":{"name":"tags"},"transform":[{"filter":"datum.p===2"}],
      "mark":{"type":"text","align":"left","baseline":"alphabetic","font":"DejaVu Serif","fontSize":28,"color":"#000000"},
      "encoding":{
       "x":{"field":"a","type":"quantitative","scale":{"domain":[0,1],"nice":false,"zero":false},"axis":null},
       "y":{"field":"v","type":"quantitative","scale":{"domain":[-80,20],"nice":false,"zero":false},"axis":null},
       "text":{"field":"t","type":"nominal"}
      }},
     {"data":{"name":"tags"},"transform":[{"filter":"datum.p===2"}],
      "mark":{"type":"text","align":"left","baseline":"alphabetic","font":"DejaVu Serif","fontSize":20,"color":"#000000","dx":15,"dy":7},
      "encoding":{
       "x":{"field":"a","type":"quantitative","scale":{"domain":[0,1],"nice":false,"zero":false},"axis":null},
       "y":{"field":"v","type":"quantitative","scale":{"domain":[-80,20],"nice":false,"zero":false},"axis":null},
       "text":{"field":"n","type":"nominal"}
      }}
    ]
   },
   {
    "width":748,"height":293,
    "view":{"stroke":"#000000","strokeWidth":2,"fill":"#ffffff"},
    "resolve":{"axis":{"x":"independent","y":"independent"}},
    "layer":[
     {"data":{"name":"curves"},"transform":[{"filter":"datum.p===3"}],
      "mark":{"type":"line","strokeWidth":1.5,"interpolate":"monotone","clip":true},
      "encoding":{
       "x":{"field":"a","type":"quantitative","scale":{"domain":[0,1],"nice":false,"zero":false},
            "axis":{"orient":"bottom","values":[0,0.2,0.4,0.6,0.8,1],"format":".1f","tickSize":-8,"labelPadding":20,
                    "title":"a","titleFont":"DejaVu Serif","titleFontSize":28,"titleFontWeight":"normal","titlePadding":-2}},
       "y":{"field":"v","type":"quantitative","scale":{"domain":[-400,200],"nice":false,"zero":false},
            "axis":{"orient":"left","title":null,"format":"d","values":[-384,-352,-320,-288,-256,-224,-192,-160,-128,-96,-64,-32,0,32,64,96,128,160,192],
                    "labelExpr":"datum.value % 160 === 0 ? datum.label : ''",
                    "tickSize":{"condition":{"test":"datum.value % 160 === 0","value":-8},"value":-4},
                    "labelPadding":14}},
       "color":{"field":"k","type":"nominal","scale":{"domain":["m","r","g","y","k","b"],"range":["#bf00bf","#ff0000","#008000","#bfbf00","#000000","#0000ff"]},"legend":null},
       "detail":{"field":"c","type":"nominal"}
      }},
     {"data":{"name":"dots"},"transform":[{"filter":"datum.p===3"}],
      "mark":{"type":"circle","size":230,"opacity":1,"stroke":"#333333","strokeWidth":1},
      "encoding":{
       "x":{"field":"a","type":"quantitative","scale":{"domain":[0,1],"nice":false,"zero":false},
            "axis":{"orient":"top","values":[0,0.2,0.4,0.6,0.8,1],"labels":false,"tickSize":-8,"title":null}},
       "y":{"field":"v","type":"quantitative","scale":{"domain":[-400,200],"nice":false,"zero":false},
            "axis":{"orient":"right","title":null,"labels":false,"values":[-384,-352,-320,-288,-256,-224,-192,-160,-128,-96,-64,-32,0,32,64,96,128,160,192],
                    "tickSize":{"condition":{"test":"datum.value % 160 === 0","value":-8},"value":-4}}},
       "fill":{"field":"k","type":"nominal","scale":{"domain":["m","r","g"],"range":["#bf00bf","#ff0000","#008000"]},"legend":null}
      }},
     {"data":{"name":"tags"},"transform":[{"filter":"datum.p===3"}],
      "mark":{"type":"text","align":"left","baseline":"alphabetic","font":"DejaVu Serif","fontSize":28,"color":"#000000"},
      "encoding":{
       "x":{"field":"a","type":"quantitative","scale":{"domain":[0,1],"nice":false,"zero":false},"axis":null},
       "y":{"field":"v","type":"quantitative","scale":{"domain":[-400,200],"nice":false,"zero":false},"axis":null},
       "text":{"field":"t","type":"nominal"}
      }},
     {"data":{"name":"tags"},"transform":[{"filter":"datum.p===3"}],
      "mark":{"type":"text","align":"left","baseline":"alphabetic","font":"DejaVu Serif","fontSize":20,"color":"#000000","dx":15,"dy":7},
      "encoding":{
       "x":{"field":"a","type":"quantitative","scale":{"domain":[0,1],"nice":false,"zero":false},"axis":null},
       "y":{"field":"v","type":"quantitative","scale":{"domain":[-400,200],"nice":false,"zero":false},"axis":null},
       "text":{"field":"n","type":"nominal"}
      }}
    ]
   }
  ]
 }
]
}
